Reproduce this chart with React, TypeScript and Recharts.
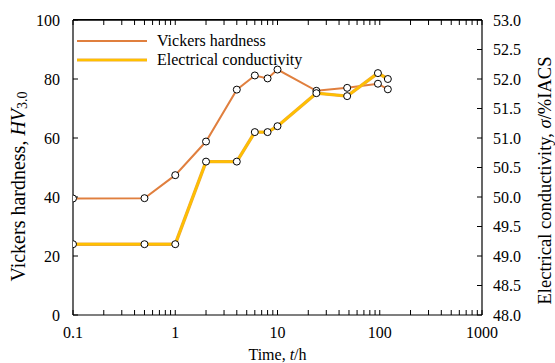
import React from 'react';
import { LineChart, Line, XAxis, YAxis, Legend, ReferenceLine } from 'recharts';

const times = [0.1, 0.5, 1, 2, 4, 6, 8, 10, 24, 48, 96, 120];
const hardness = [39.5, 39.6, 47.4, 58.8, 76.4, 81.2, 80.2, 83.2, 76.0, 77.0, 78.4, 76.5];
const conductivity = [49.2, 49.2, 49.2, 50.6, 50.6, 51.1, 51.1, 51.2, 51.76, 51.71, 52.1, 52.0];

const xMajorTicks = [0.1, 1, 10, 100, 1000];
const xMinorTicks = [
  0.2, 0.3, 0.4, 0.5, 0.6, 0.7, 0.8, 0.9,
  2, 3, 4, 5, 6, 7, 8, 9,
  20, 30, 40, 50, 60, 70, 80, 90,
  200, 300, 400, 500, 600, 700, 800, 900,
];
const xAllTicks = [...xMajorTicks, ...xMinorTicks].sort((a, b) => a - b);
const hvTicks = [0, 20, 40, 60, 80, 100];
const ecTicks = [48, 48.5, 49, 49.5, 50, 50.5, 51, 51.5, 52, 52.5, 53];
const seriesOrder = ['hv', 'ec'];

const data = times.map((t, i) => ({ t, hv: hardness[i], ec: conductivity[i] }));

const FONT = '"Liberation Serif", "Times New Roman", serif';
const ORANGE = '#E07F3E';
const YELLOW = '#FFC000';
const YELLOW_EDGE = '#EBA83A';
const dotStyle = { r: 3.5, fill: '#fff', stroke: '#000', strokeWidth: 1 };
const tickStyle = { fill: '#000', fontSize: 16, fontFamily: FONT };
const tickLineStyle = { stroke: '#000', strokeWidth: 1 };
const axisLineStyle = { stroke: '#000', strokeWidth: 1.2 };
const xLabel = (v: number) => (xMajorTicks.includes(v) ? String(v) : '');
const blank = () => '';

const CHART_W = 555;
const CHART_H = 363;
const PLOT_LEFT = 73;
const PLOT_RIGHT = 73;
const PLOT_TOP = 20;

const HvLabel = (props: any) => {
  const vb = props.viewBox || {};
  const cx = vb.x + 18;
  const cy = vb.y + vb.height / 2 + 19;
  return (
    <text x={cx} y={cy} transform={`rotate(-90 ${cx} ${cy})`} textAnchor="middle"
      dominantBaseline="central" fontFamily={FONT} fontSize={20} fill="#000">
      Vickers hardness, <tspan fontStyle="italic">HV</tspan>
      <tspan fontSize={14} dy={4}>3.0</tspan>
    </text>
  );
};

const EcLabel = (props: any) => {
  const vb = props.viewBox || {};
  const cx = vb.x + vb.width - 10;
  const cy = vb.y + vb.height / 2 + 13;
  return (
    <text x={cx} y={cy} transform={`rotate(-90 ${cx} ${cy})`} textAnchor="middle"
      dominantBaseline="central" fontFamily={FONT} fontSize={18.5} fill="#000">
      Electrical conductivity, <tspan fontStyle="italic">σ</tspan>/%IACS
    </text>
  );
};

const TimeLabel = (props: any) => {
  const vb = props.viewBox || {};
  const cx = vb.x + vb.width / 2;
  const cy = vb.y + 39;
  return (
    <text x={cx} y={cy} textAnchor="middle" dominantBaseline="central"
      fontFamily={FONT} fontSize={16} fill="#000">
      Time, <tspan fontStyle="italic">t</tspan>/h
    </text>
  );
};

const LegendContent = (props: any) => {
  const items = (props.payload || [])
    .filter((p: any) => p.type !== 'none')
    .slice()
    .sort((a: any, b: any) => seriesOrder.indexOf(a.dataKey) - seriesOrder.indexOf(b.dataKey));
  return (
    <div style={{ fontFamily: FONT, fontSize: 16, color: '#000' }}>
      {items.map((p: any, i: number) => {
        const isEc = p.dataKey === 'ec';
        return (
          <div key={i} style={{ display: 'flex', alignItems: 'center', height: 19 }}>
            <svg width={80} height={10} style={{ display: 'block' }}>
              {isEc && <line x1={0} x2={70} y1={5} y2={5} stroke={YELLOW_EDGE} strokeWidth={3.2} />}
              <line x1={0} x2={70} y1={5} y2={5} stroke={p.color} strokeWidth={isEc ? 2.2 : 2} />
            </svg>
            <span style={{ whiteSpace: 'nowrap', lineHeight: '18px' }}>{p.value}</span>
          </div>
        );
      })}
    </div>
  );
};

export default function App() {
  return (
    <div style={{ position: 'absolute', left: 0, top: 0, width: CHART_W, height: CHART_H, background: '#fff' }}>
      <LineChart width={CHART_W} height={CHART_H} data={data} margin={{ top: 0, right: 0, bottom: 0, left: 0 }}>
        <XAxis xAxisId="main" dataKey="t" type="number" scale="log" domain={[0.1, 1000]}
          allowDataOverflow ticks={xAllTicks} interval={0} tickFormatter={xLabel}
          tickLine={tickLineStyle} tickSize={-5} tickMargin={17} height={48}
          axisLine={axisLineStyle} tick={tickStyle}
          label={{ content: TimeLabel }} />
        <XAxis xAxisId="top" orientation="top" dataKey="t" type="number" scale="log" domain={[0.1, 1000]}
          allowDataOverflow ticks={xAllTicks} interval={0} tickFormatter={blank}
          tickLine={tickLineStyle} tickSize={-5} tickMargin={0} height={PLOT_TOP}
          axisLine={axisLineStyle} tick={tickStyle} />

        <YAxis yAxisId="hv" type="number" domain={[0, 100]} ticks={hvTicks} interval={0}
          width={PLOT_LEFT} tickLine={tickLineStyle} tickSize={-5} tickMargin={18}
          axisLine={axisLineStyle} tick={tickStyle}
          label={{ content: HvLabel }} />
        <YAxis yAxisId="ec" orientation="right" type="number" domain={[48, 53]} ticks={ecTicks}
          interval={0} width={PLOT_RIGHT} tickLine={tickLineStyle} tickSize={-5} tickMargin={16}
          tickFormatter={(v: number) => v.toFixed(1)}
          axisLine={axisLineStyle} tick={tickStyle}
          label={{ content: EcLabel }} />

        <ReferenceLine xAxisId="main" yAxisId="hv" y={100} stroke="#000" strokeWidth={1.2} ifOverflow="visible" />

        <Legend layout="vertical" align="center" verticalAlign="middle" content={LegendContent}
          wrapperStyle={{ left: 77, top: 31, width: 260, height: 40 }} />

        <Line xAxisId="main" yAxisId="hv" dataKey="hv" name="Vickers hardness" stroke={ORANGE}
          strokeWidth={2} dot={dotStyle} activeDot={false} isAnimationActive={false} />
        <Line xAxisId="main" yAxisId="ec" dataKey="ec" stroke={YELLOW_EDGE} strokeWidth={3.4}
          dot={false} activeDot={false} legendType="none" isAnimationActive={false} />
        <Line xAxisId="main" yAxisId="ec" dataKey="ec" name="Electrical conductivity" stroke={YELLOW}
          strokeWidth={2.3} dot={dotStyle} activeDot={false} isAnimationActive={false} />
      </LineChart>
      <div style={{
        position: 'absolute', left: PLOT_LEFT, top: PLOT_TOP - 0.6,
        width: CHART_W - PLOT_LEFT - PLOT_RIGHT, height: 0,
        borderTop: '1.2px solid #000', pointerEvents: 'none',
      }} />
    </div>
  );
}
